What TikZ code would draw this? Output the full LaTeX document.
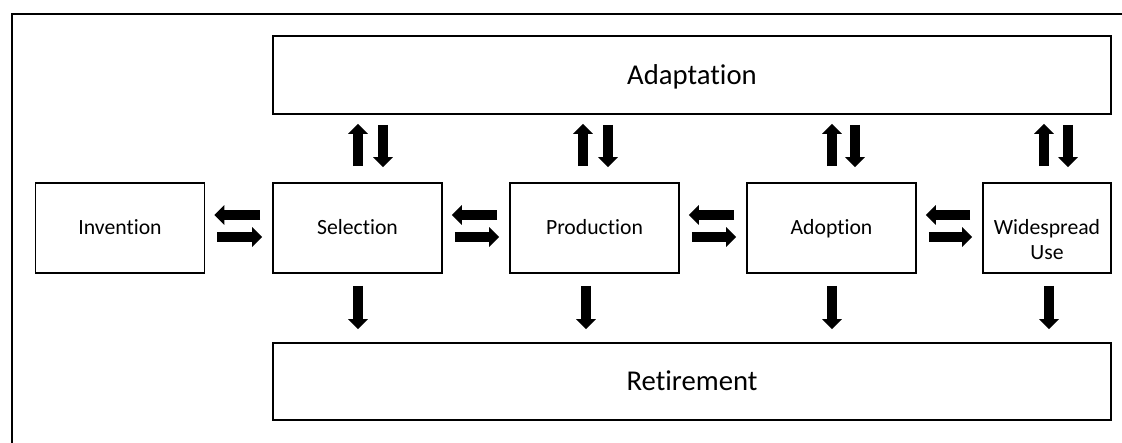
\documentclass[tikz,border=0pt]{standalone}
\usepackage{fontspec}
\setmainfont{Carlito}[Ligatures=NoCommon]
\usetikzlibrary{arrows.meta,calc}
\tikzset{
  boxline/.style={draw=black, line width=1.6pt},
  smallbox/.style={boxline, minimum width=169pt, minimum height=90pt, inner sep=2pt, align=center, font=\fontsize{21.7}{25}\selectfont},
  oneline/.style={text height=14pt, text depth=0pt},
  bigbox/.style={boxline, minimum width=838pt, minimum height=78pt, inner sep=2pt, font=\fontsize{28.7}{34}\selectfont, text height=18.5pt, text depth=0pt},
  blk/.style={line width=10pt, -{Triangle[width=19pt,length=10pt]}},
}
\begin{document}
\begin{tikzpicture}[x=1pt,y=1pt]
\useasboundingbox (0,0) rectangle (1122,442);
\begin{scope}
\clip (0,0) rectangle (1122,442);
\draw[line width=2pt, black] (11.5,-5) |- (1130,427.7);
\end{scope}
% nodes
\node[smallbox, oneline] (inv) at (120,214) {Invention};
\node[smallbox, oneline] (sel) at (357.5,214) {Selection};
\node[smallbox, oneline] (prod) at (594.5,214) {Production};
\node[smallbox, oneline] (adop) at (831.5,214) {Adoption};
\node[smallbox, minimum width=128pt] (wide) at (1047,214) {};
\node[align=center, inner sep=0pt, font=\fontsize{21.7}{25}\selectfont] (widetext) at ($(wide.center)+(0,-12)$) {Widespread\\Use};
\node[bigbox] (adapt) at (692,367) {Adaptation};
\node[bigbox, minimum height=77pt] (ret) at (692,60.5) {Retirement};
% horizontal arrows
\foreach \a/\b in {inv/sel, sel/prod, prod/adop, adop/wide}{
  \draw[blk] ($(\b.west)+(-12,13)$) -- ($(\a.east)+(9,13)$);
  \draw[blk] ($(\a.east)+(12,-9)$) -- ($(\b.west)+(-10,-9)$);
}
% vertical arrows to/from Adaptation
\foreach \n/\u/\d in {sel/0.5/25.5, prod/-11.5/13.5, adop/0.5/23.5, wide/-3/21}{
  \draw[blk] ($(\n.north)+(\u,16)$) -- ($(\n.north |- adapt.south)+(\u,-9)$);
  \draw[blk] ($(\n.north |- adapt.south)+(\d,-10)$) -- ($(\n.north)+(\d,15)$);
}
% down arrows to Retirement
\foreach \n/\s in {sel/0.5, prod/-8.5, adop/0.5, wide/2}{
  \draw[blk] ($(\n.south)+(\s,-12)$) -- ($(\n.south |- ret.north)+(\s,13)$);
}
\end{tikzpicture}
\end{document}
